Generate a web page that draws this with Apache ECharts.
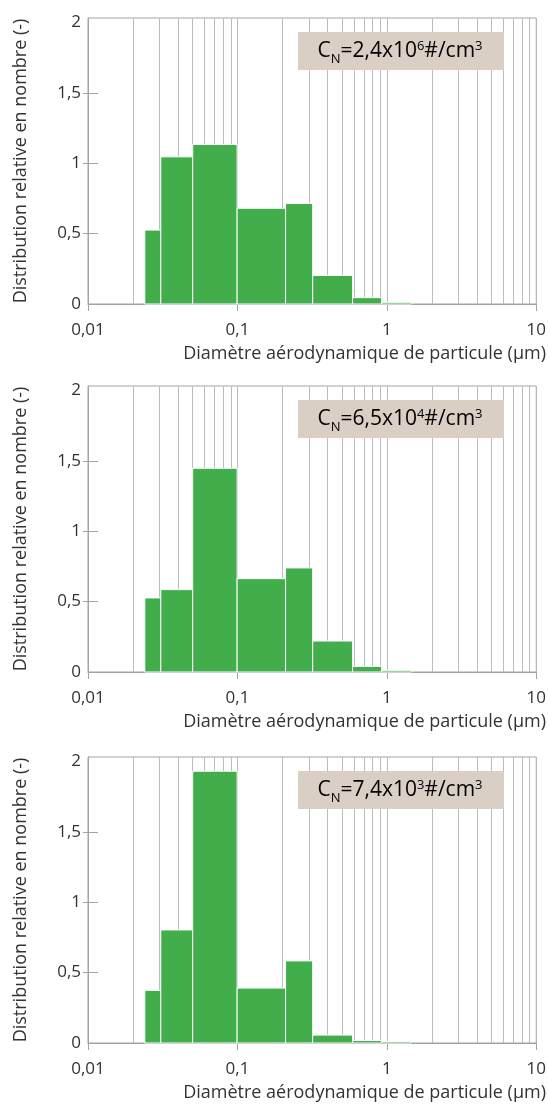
<!DOCTYPE html>
<html><head><meta charset="utf-8">
<script src="https://cdn.jsdelivr.net/npm/echarts@6/dist/echarts.min.js"></script>
<style>html,body{margin:0;padding:0;background:#fff}#c{width:549px;height:1104px}</style>
</head><body><div id="c"></div>
<script>
// ---- data ----
const binEdges = [0.024, 0.0307, 0.0502, 0.0995, 0.21, 0.319, 0.59, 0.922, 1.456];
const panel1 = [0.525, 1.045, 1.133, 0.68, 0.714, 0.203, 0.045, 0.012];
const panel2 = [0.526, 0.585, 1.447, 0.663, 0.739, 0.22, 0.04, 0.012];
const panel3 = [0.374, 0.803, 1.93, 0.39, 0.583, 0.056, 0.018, 0.01];
const cnMantissa = ['2,4', '6,5', '7,4'];
const cnExponent = ['6', '4', '3'];
const yTicks = [0, 0.5, 1, 1.5, 2];
const yTickMarks = [0.5, 1, 1.5];
const xTicks = [0.01, 0.1, 1, 10];
const xTickLabels = ['0,01', '0,1', '1', '10'];
const gridLinesX = [0.02,0.03,0.04,0.05,0.06,0.07,0.08,0.09,0.1,0.2,0.3,0.4,0.5,0.6,0.7,0.8,0.9,1,2,3,4,5,6,7,8,9];
const xTitle = 'Diamètre aérodynamique de particule (µm)';
const yTitle = 'Distribution relative en nombre (-)';

// ---- layout ----
const FONT = 'Open Sans';
const panels = [panel1, panel2, panel3];
const gridTops = [18, 386, 757];
const gridH = 286, gridL = 88, gridR = 3;
const yMax = 2.031;
const AX = '#a3a3a3', GL = '#bcbcbc', TXT = '#333';

const chart = echarts.init(document.getElementById('c'), null, {renderer: 'canvas'});
const grids = [], xAxes = [], yAxes = [], series = [], graphics = [];

panels.forEach((vals, i) => {
  grids.push({left: gridL, right: gridR, top: gridTops[i], height: gridH, show: true,
    borderColor: AX, borderWidth: 1, backgroundColor: 'transparent'});
  xAxes.push({type: 'log', logBase: 10, min: 0.01, max: 10, gridIndex: i,
    axisLine: {lineStyle: {color: AX}},
    axisTick: {show: true, length: 7, lineStyle: {color: AX}},
    axisLabel: {color: TXT, fontFamily: FONT, fontSize: 17, margin: 18,
      formatter: v => { const k = xTicks.findIndex(t => Math.abs(Math.log10(t) - Math.log10(v)) < 1e-6); return k >= 0 ? xTickLabels[k] : ''; }},
    splitLine: {show: false}, minorSplitLine: {show: false}});
  yAxes.push({type: 'value', min: 0, max: yMax, gridIndex: i,
    name: yTitle, nameLocation: 'middle', nameGap: 58,
    nameTextStyle: {color: TXT, fontFamily: FONT, fontSize: 18},
    axisLine: {show: true, lineStyle: {color: AX}},
    axisTick: {show: true, length: 5, customValues: yTickMarks, lineStyle: {color: AX}},
    axisLabel: {color: TXT, fontFamily: FONT, fontSize: 17, margin: 7, customValues: yTicks,
      formatter: v => String(v).replace('.', ',')},
    splitLine: {show: false}});
  yAxes.push({type: 'value', min: 0, max: yMax, gridIndex: i, position: 'left',
    axisLine: {show: false},
    axisTick: {show: true, inside: true, length: 10, customValues: yTickMarks, lineStyle: {color: AX}},
    axisLabel: {show: false}, splitLine: {show: false}});

  series.push({type: 'custom', xAxisIndex: i, yAxisIndex: 2 * i, z: 1, silent: true,
    data: gridLinesX.map(v => [v, 0]), encode: {x: 0, y: 1},
    renderItem: (params, api) => {
      const p = api.coord([api.value(0), 0]);
      const top = params.coordSys.y;
      return {type: 'line', shape: {x1: Math.round(p[0]) + 0.5, y1: p[1], x2: Math.round(p[0]) + 0.5, y2: top},
        style: {stroke: GL, lineWidth: 1}};
    }});
  series.push({type: 'custom', xAxisIndex: i, yAxisIndex: 2 * i, z: 3,
    data: vals.map((v, k) => [binEdges[k], binEdges[k + 1], v]), encode: {x: [0, 1], y: 2},
    renderItem: (params, api) => {
      const p0 = api.coord([api.value(0), api.value(2)]);
      const p1 = api.coord([api.value(1), 0]);
      return {type: 'rect', shape: {x: p0[0], y: p0[1], width: p1[0] - p0[0], height: p1[1] - p0[1]},
        style: {fill: '#41ad4b', stroke: '#ffffff', lineWidth: 1}};
    }});

  const t = gridTops[i];
  graphics.push({type: 'rect', left: 298, top: t + 14, z: 10,
    shape: {width: 206, height: 38}, style: {fill: '#d9cfc4'}});
  graphics.push({type: 'text', x: 400, y: t + 33, z: 11,
    style: {text: '{a|C}{b|N}{a|=' + cnMantissa[i] + 'x10}{c|' + cnExponent[i] + '}{a|#/cm}{c|3}',
      align: 'center', verticalAlign: 'middle',
      rich: {
        a: {fontFamily: FONT, fontSize: 21, color: TXT, lineHeight: 26, verticalAlign: 'middle'},
        b: {fontFamily: FONT, fontSize: 13, color: TXT, lineHeight: 13, verticalAlign: 'bottom', padding: [0, 0, -2, 0]},
        c: {fontFamily: FONT, fontSize: 13, color: TXT, lineHeight: 13, verticalAlign: 'top', padding: [2, 0, 0, 0]}
      }}});
  graphics.push({type: 'text', x: 546, y: t + gridH + 50, z: 11,
    style: {text: xTitle, align: 'right', verticalAlign: 'middle', fontFamily: FONT, fontSize: 18, fill: TXT}});
});

chart.setOption({animation: false, grid: grids, xAxis: xAxes, yAxis: yAxes, series: series, graphic: graphics});
</script></body></html>
